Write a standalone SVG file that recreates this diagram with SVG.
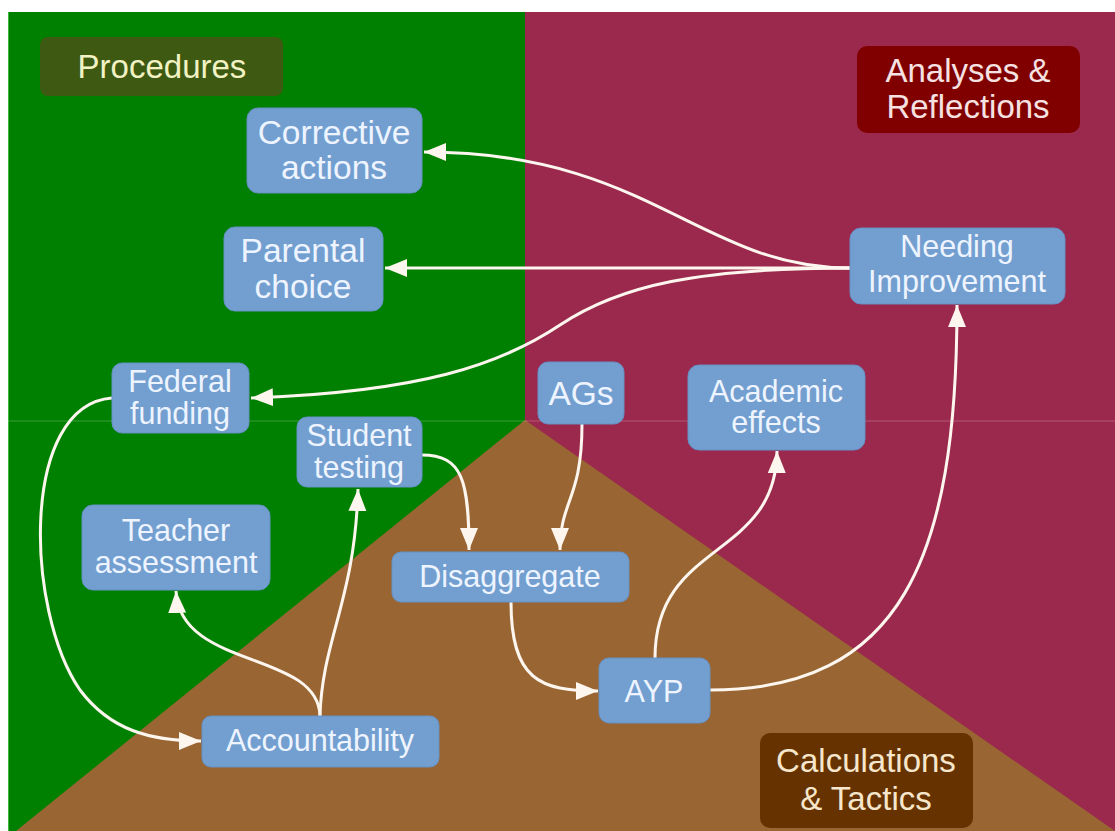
<svg xmlns="http://www.w3.org/2000/svg" width="1115" height="831" viewBox="0 0 1115 831">
<defs>
<style>
.node rect{fill:#729fcf;stroke:#6690c4;stroke-width:1}
.node text{font-family:"Liberation Sans",Arial,sans-serif;font-size:30.5px;fill:#eef4ff;text-anchor:middle}
.node text.big{font-size:33.5px}
.lbl text{font-family:"Liberation Sans",Arial,sans-serif;font-size:33px;text-anchor:middle}
.conn path{fill:none;stroke:#fdf6ee;stroke-width:3}
</style>
<marker id="arr" markerUnits="userSpaceOnUse" markerWidth="24" markerHeight="20" refX="22" refY="9" orient="auto">
<path d="M0,0 L22,9 L0,18 Z" fill="#fdf6ee"/>
</marker>
</defs>
<rect x="0" y="0" width="1115" height="831" fill="#ffffff"/>
<g id="background">
<rect x="8" y="12" width="517" height="819" fill="#008000"/>
<rect x="525" y="12" width="590" height="819" fill="#9b284d"/>
<polygon points="525,420 1115,831 16,831" fill="#996633"/>
<line x1="8" y1="421" x2="1115" y2="421" stroke="#ffffff" stroke-opacity="0.15" stroke-width="1.5"/>
<line x1="8.5" y1="12" x2="8.5" y2="831" stroke="#66dd66" stroke-opacity="0.6" stroke-width="1"/>
</g>
<g id="label-procedures" class="lbl">
<rect x="40" y="37" width="243" height="59" rx="8" fill="#3e5a12"/>
<text x="162" y="78" fill="#f2f2c4" font-size="34">Procedures</text>
</g>
<g id="label-analyses" class="lbl">
<rect x="857" y="46" width="223" height="87" rx="10" fill="#800000"/>
<text x="968" y="82" fill="#f6e2e2">Analyses &amp;</text>
<text x="968" y="118" fill="#f6e2e2">Reflections</text>
</g>
<g id="label-calculations" class="lbl">
<rect x="760" y="733" width="213" height="95" rx="10" fill="#663300"/>
<text x="866" y="772" fill="#f6e6cc">Calculations</text>
<text x="866" y="810" fill="#f6e6cc">&amp; Tactics</text>
</g>
<g id="connectors" class="conn">
<path d="M850,268 C700,268 650,152 424,152" marker-end="url(#arr)"/>
<path d="M850,268 L385,268" marker-end="url(#arr)"/>
<path d="M850,268 C700,268 620,285 560,325 C500,365 420,392 251,398" marker-end="url(#arr)"/>
<path d="M112,398 C20,405 25,610 80,690 C110,730 150,741 201,741" marker-end="url(#arr)"/>
<path d="M320,716 C322,640 355,600 358,489" marker-end="url(#arr)"/>
<path d="M320,716 C318,650 180,670 176,591" marker-end="url(#arr)"/>
<path d="M422,455 C462,455 469,480 469,550" marker-end="url(#arr)"/>
<path d="M582,424 C582,500 560,500 560,550" marker-end="url(#arr)"/>
<path d="M511,602 C511,680 540,691 598,691" marker-end="url(#arr)"/>
<path d="M655,658 C655,540 776,560 777,451" marker-end="url(#arr)"/>
<path d="M710,690 C900,690 957,560 957,305" marker-end="url(#arr)"/>
</g>
<g id="node-corrective" class="node">
<rect x="247" y="108" width="175" height="85" rx="11"/>
<text class="big" x="334" y="144">Corrective</text>
<text class="big" x="334" y="179">actions</text>
</g>
<g id="node-parental" class="node">
<rect x="224" y="227" width="159" height="84" rx="11"/>
<text class="big" x="303" y="262">Parental</text>
<text class="big" x="303" y="298">choice</text>
</g>
<g id="node-needing" class="node">
<rect x="850" y="228" width="215" height="76" rx="11"/>
<text x="957" y="257">Needing</text>
<text x="957" y="292">Improvement</text>
</g>
<g id="node-federal" class="node">
<rect x="112" y="363" width="137" height="70" rx="10"/>
<text x="180" y="392">Federal</text>
<text x="180" y="424">funding</text>
</g>
<g id="node-ags" class="node">
<rect x="538" y="362" width="86" height="62" rx="10"/>
<text class="big" x="581" y="405">AGs</text>
</g>
<g id="node-academic" class="node">
<rect x="688" y="365" width="177" height="85" rx="11"/>
<text x="776" y="402">Academic</text>
<text x="776" y="433">effects</text>
</g>
<g id="node-student" class="node">
<rect x="297" y="417" width="125" height="70" rx="10"/>
<text x="359" y="446">Student</text>
<text x="359" y="478">testing</text>
</g>
<g id="node-teacher" class="node">
<rect x="82" y="505" width="188" height="85" rx="11"/>
<text x="176" y="541">Teacher</text>
<text x="176" y="573">assessment</text>
</g>
<g id="node-disaggregate" class="node">
<rect x="392" y="552" width="237" height="50" rx="9"/>
<text x="510" y="587">Disaggregate</text>
</g>
<g id="node-ayp" class="node">
<rect x="599" y="658" width="111" height="65" rx="10"/>
<text x="654" y="702">AYP</text>
</g>
<g id="node-accountability" class="node">
<rect x="202" y="716" width="237" height="51" rx="9"/>
<text x="320" y="751">Accountability</text>
</g>
</svg>
